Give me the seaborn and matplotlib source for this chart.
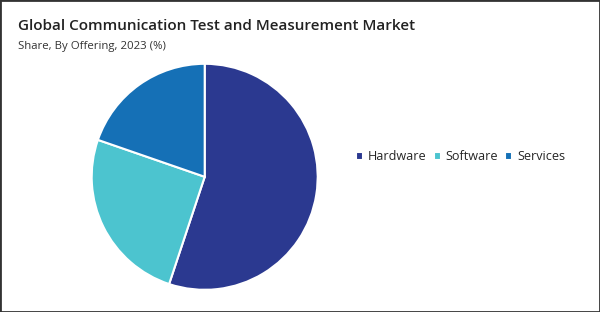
import matplotlib
matplotlib.use("Agg")
import matplotlib.pyplot as plt
from matplotlib.patches import Rectangle
import seaborn as sns

categories = ["Hardware", "Software", "Services"]
shares = [55.1, 25.2, 19.7]
colors = ["#2b3990", "#4cc4cf", "#1570b6"]

title = "Global Communication Test and Measurement Market"
subtitle = "Share, By Offering, 2023 (%)"

sns.set_theme(style="white")
plt.rcParams["font.family"] = ["Open Sans", "DejaVu Sans"]

fig = plt.figure(figsize=(6, 3.12), dpi=100)
ax = fig.add_axes([91.7 / 600, (312 - 176.8 - 113) / 312, 226 / 600, 226 / 312])
wedges, _ = ax.pie(shares, colors=colors, startangle=90, counterclock=False,
                   wedgeprops=dict(edgecolor="white", linewidth=1.5))
ax.set_xlim(-1, 1)
ax.set_ylim(-1, 1)
ax.set_aspect("equal")

fig.text(18 / 600, 1 - 26 / 312, title, fontsize=11.0, fontweight="semibold",
         color="#222222", va="center", ha="left")
fig.text(18 / 600, 1 - 46 / 312, subtitle, fontsize=8.2, color="#333333",
         va="center", ha="left")

fig.legend(wedges, categories, loc="center left",
           bbox_to_anchor=(351 / 600, 1 - 157 / 312), ncol=3, frameon=False,
           fontsize=9.1, handlelength=0.55, handleheight=0.55,
           handletextpad=0.4, columnspacing=0.55, borderaxespad=0)

fig.patches.append(Rectangle((0, 0), 1, 1, transform=fig.transFigure,
                             fill=False, edgecolor="#333333", linewidth=2))

fig.savefig("out.png", dpi=100)
